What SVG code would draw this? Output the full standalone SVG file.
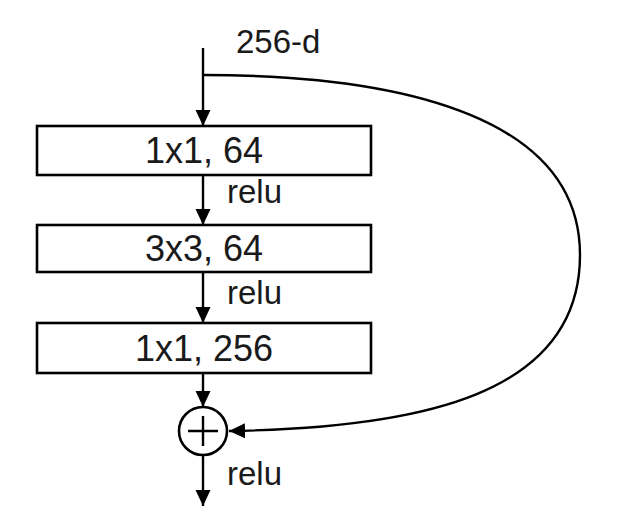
<svg xmlns="http://www.w3.org/2000/svg" width="631" height="516" viewBox="0 0 631 516">
<style>
.box{fill:#fff;stroke:#000;stroke-width:2.6}
.ln{fill:none;stroke:#000;stroke-width:2.4}
.t{font-family:"Liberation Sans",Arial,sans-serif;fill:#1a1a1a;text-anchor:middle;font-size:36px}
.lbl{font-family:"Liberation Sans",Arial,sans-serif;fill:#1a1a1a;font-size:33px}
</style>
<defs>
<marker id="a" viewBox="0 0 16 16" refX="16" refY="8" markerWidth="16" markerHeight="16" markerUnits="userSpaceOnUse" orient="auto">
<path d="M0,0.5 L16,8 L0,15.5 Z" fill="#000"/>
</marker>
</defs>
<rect width="631" height="516" fill="#fff"/>
<g id="connectors">
<line class="ln" x1="203" y1="48" x2="203" y2="126" marker-end="url(#a)"/>
<line class="ln" x1="203" y1="175" x2="203" y2="225" marker-end="url(#a)"/>
<line class="ln" x1="203" y1="272" x2="203" y2="323" marker-end="url(#a)"/>
<line class="ln" x1="203" y1="373" x2="203" y2="407" marker-end="url(#a)"/>
<line class="ln" x1="203" y1="455" x2="203" y2="506" marker-end="url(#a)"/>
<path class="ln" d="M203,75 C410,75 580,120 580,255 C580,395 420,428 229,431" marker-end="url(#a)"/>
</g>
<g id="input-label"><text class="lbl" x="236" y="53">256-d</text></g>
<g id="conv1"><rect class="box" x="37" y="126" width="334" height="49"/><text class="t" x="204" y="163">1x1, 64</text></g>
<text class="lbl" x="227" y="203">relu</text>
<g id="conv2"><rect class="box" x="37" y="225" width="334" height="47"/><text class="t" x="204" y="261">3x3, 64</text></g>
<text class="lbl" x="227" y="304">relu</text>
<g id="conv3"><rect class="box" x="37" y="323" width="334" height="50"/><text class="t" x="204" y="361">1x1, 256</text></g>
<g id="add"><circle cx="203" cy="431" r="24" fill="#fff" stroke="#000" stroke-width="2.6"/><path d="M188,431 H218 M203,416 V446" stroke="#000" stroke-width="2.4"/></g>
<text class="lbl" x="227" y="485">relu</text>
</svg>
